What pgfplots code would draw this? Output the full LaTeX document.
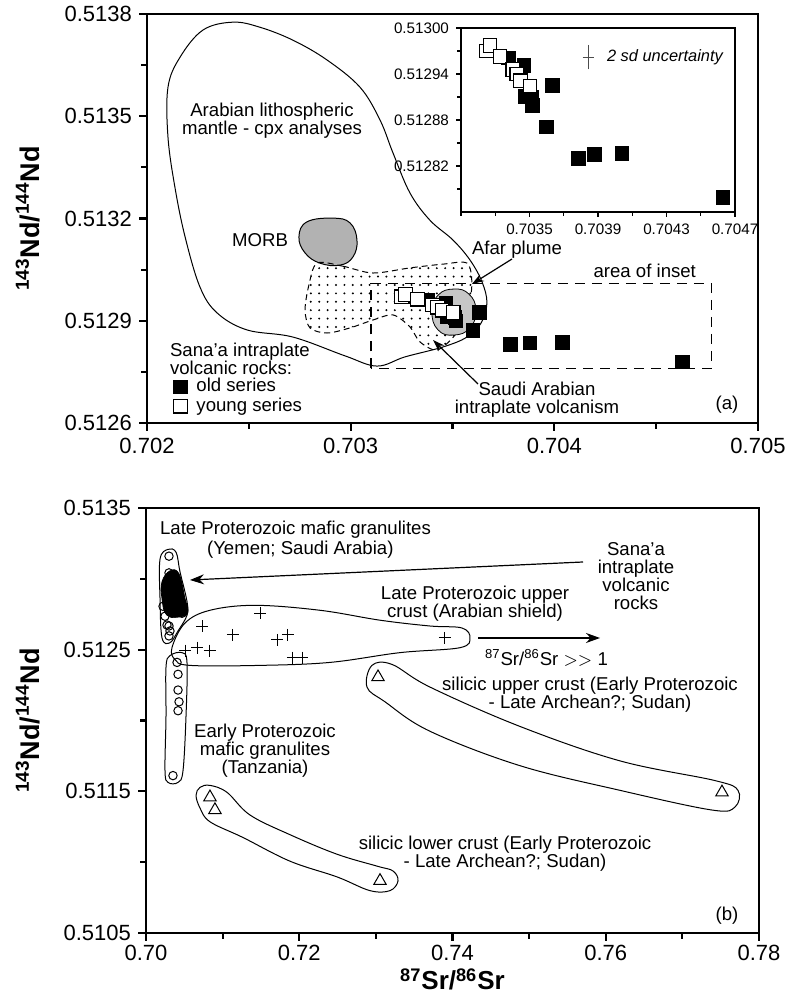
\documentclass[border=0pt]{standalone}
\usepackage{pgfplots}
\pgfplotsset{compat=1.18}
\usepackage{fontspec}
\setmainfont{Liberation Sans}
\usetikzlibrary{patterns.meta,arrows.meta}

\newcommand\ann{\fontsize{9.3}{9}\selectfont}

\pgfplotsset{
  panel/.style={
    scale only axis, anchor=south west,
    axis line style={line width=1.3pt},
    tick align=outside, xtick pos=left, ytick pos=left,
    major tick length=4pt, minor tick length=3pt,
    every tick/.style={line width=1.1pt, black},
    tick label style={font=\fontsize{11}{13}\selectfont},
    scaled ticks=false,
    label style={font=\bfseries\fontsize{13.5}{15}\selectfont},
  },
  oldser/.style={only marks, mark=square*, mark size=3.4pt,
    mark options={draw=black, fill=black, line width=0.5pt}},
  youngser/.style={only marks, mark=square*, mark size=3.4pt,
    mark options={draw=black, fill=white, line width=0.6pt}},
}

% Sana'a intraplate volcanic rocks, 87Sr/86Sr vs 143Nd/144Nd
\pgfplotstableread{
x y
0.70463 0.512779
0.70404 0.512836
0.70388 0.512835
0.703785 0.512830
0.70360 0.512871
0.703633 0.512925
0.703518 0.512899
0.703512 0.512910
0.703473 0.512911
0.703468 0.512951
0.703376 0.512961
0.703260 0.512970
}\oldseries
\pgfplotstableread{
x y
0.703250 0.512970
0.703269 0.512977
0.703328 0.512963
0.703402 0.512946
0.703426 0.512940
0.703448 0.512931
0.703503 0.512924
}\youngseries

\begin{document}
\begin{tikzpicture}
\path[use as bounding box] (0,0) rectangle (394pt,499.5pt);

% ---------------- panel (a) ----------------
\begin{axis}[panel, at={(73.5pt,288pt)}, width=305.5pt, height=204.5pt,
  xmin=0.702, xmax=0.705, ymin=0.5126, ymax=0.5138,
  xtick={0.702,0.703,0.704,0.705}, xticklabels={0.702,0.703,0.704,0.705},
  minor xtick={0.7025,0.7035,0.7045},
  ytick={0.5126,0.5129,0.5132,0.5135,0.5138},
  yticklabels={0.5126,0.5129,0.5132,0.5135,0.5138},
  minor ytick={0.51275,0.51305,0.51335,0.51365},
  ylabel={\textsuperscript{143}Nd/\textsuperscript{144}Nd},
  ylabel style={at={(axis description cs:-0.195,0.5)}, anchor=center},
  legend style={at={(axis description cs:0.043,0.112)}, anchor=north west,
    draw=none, fill=none, inner sep=0pt, row sep=0.2pt, column sep=4pt,
    font=\ann, nodes={inner sep=0.6pt, text height=6.6pt, text depth=1.6pt}},
  legend cell align=left,
]
% Arabian lithospheric mantle field
\draw[line width=0.5pt] plot[smooth cycle, tension=0.6] coordinates {
 (axis cs:0.702422,0.513776) (axis cs:0.702555,0.513761) (axis cs:0.702717,0.513723)
 (axis cs:0.702884,0.513665) (axis cs:0.703046,0.513585) (axis cs:0.703144,0.513489)
 (axis cs:0.703208,0.513392) (axis cs:0.703291,0.513275) (axis cs:0.703389,0.513195)
 (axis cs:0.703502,0.513137) (axis cs:0.703586,0.513078) (axis cs:0.703645,0.513014)
 (axis cs:0.703669,0.512952) (axis cs:0.703640,0.512893) (axis cs:0.703571,0.512852)
 (axis cs:0.703453,0.512823) (axis cs:0.703267,0.512794) (axis cs:0.703129,0.512767)
 (axis cs:0.702972,0.512797) (axis cs:0.702717,0.512852) (axis cs:0.702491,0.512873)
 (axis cs:0.702344,0.512923) (axis cs:0.702260,0.512999) (axis cs:0.702187,0.513146)
 (axis cs:0.702137,0.513292) (axis cs:0.702103,0.513439) (axis cs:0.702103,0.513585)
 (axis cs:0.702162,0.513673) (axis cs:0.702275,0.513753)};
% MORB field
\draw[line width=0.5pt, fill=gray!60] plot[smooth cycle, tension=0.7] coordinates {
 (axis cs:0.702785,0.513190) (axis cs:0.702913,0.513201) (axis cs:0.702997,0.513187)
 (axis cs:0.703031,0.513137) (axis cs:0.703011,0.513087) (axis cs:0.702947,0.513063)
 (axis cs:0.702849,0.513069) (axis cs:0.702776,0.513099) (axis cs:0.702746,0.513146)};
% Saudi Arabian intraplate volcanism field
\draw[line width=0.5pt, dash pattern=on 3pt off 2pt, pattern={Dots[distance=4.2pt, radius=0.55pt]}]
 plot[smooth cycle, tension=0.5] coordinates {
 (axis cs:0.702835,0.513069) (axis cs:0.702962,0.513060) (axis cs:0.703109,0.513040)
 (axis cs:0.703291,0.513055) (axis cs:0.703453,0.513066) (axis cs:0.703571,0.513069)
 (axis cs:0.703595,0.513011) (axis cs:0.703576,0.512931) (axis cs:0.703512,0.512858)
 (axis cs:0.703424,0.512814) (axis cs:0.703340,0.512838) (axis cs:0.703291,0.512882)
 (axis cs:0.703208,0.512917) (axis cs:0.703109,0.512902) (axis cs:0.702997,0.512879)
 (axis cs:0.702884,0.512864) (axis cs:0.702800,0.512879) (axis cs:0.702776,0.512931)
 (axis cs:0.702795,0.513005)};
% Afar plume field
\draw[line width=0.4pt, fill=gray!45] plot[smooth cycle, tension=0.8] coordinates {
 (axis cs:0.703507,0.512993) (axis cs:0.703581,0.512978) (axis cs:0.703615,0.512931)
 (axis cs:0.703586,0.512879) (axis cs:0.703507,0.512858) (axis cs:0.703429,0.512873)
 (axis cs:0.703399,0.512926) (axis cs:0.703429,0.512975)};
% outline of the enlarged area
\draw[line width=0.6pt, dash pattern=on 5pt off 3.5pt]
 (axis cs:0.7031,0.51276) rectangle (axis cs:0.70477,0.51301);
\addplot[oldser] table {\oldseries};
\addlegendentry{old series}
\addplot[youngser] table {\youngseries};
\addlegendentry{young series}
\end{axis}

% ---------------- inset ----------------
\begin{axis}[scale only axis, anchor=south west, at={(230.5pt,393.5pt)},
  width=137pt, height=92pt,
  axis background/.style={fill=white},
  xmin=0.7031, xmax=0.7047, ymin=0.51276, ymax=0.51300,
  xtick={0.7035,0.7039,0.7043,0.7047}, xticklabels={0.7035,0.7039,0.7043,0.7047},
  minor xtick={0.7031,0.7033,0.7037,0.7041,0.7045},
  ytick={0.51282,0.51288,0.51294,0.51300},
  yticklabels={0.51282,0.51288,0.51294,0.51300},
  minor ytick={0.51279,0.51285,0.51291,0.51297},
  tick align=outside, xtick pos=left, ytick pos=left,
  axis line style={line width=0.8pt},
  major tick length=2.5pt, minor tick length=2pt,
  every tick/.style={line width=0.7pt, black},
  tick label style={font=\fontsize{7.6}{9}\selectfont},
  scaled ticks=false,
]
\addplot[oldser] table {\oldseries};
\addplot[youngser] table {\youngseries};
% analytical uncertainty (2 sd)
\addplot[black!70, mark=none,
  error bars/.cd, x dir=both, x explicit, y dir=both, y explicit,
  error mark options={mark size=1.1pt, line width=0.4pt, black!70},
  error bar style={line width=0.4pt, black!70}]
  coordinates {(0.703842,0.512962) +- (0.000019,0.000013)};
\end{axis}

% ---------------- panel (b) ----------------
\begin{axis}[panel, at={(73pt,33pt)}, width=306.5pt, height=212.5pt,
  xmin=0.70, xmax=0.78, ymin=0.5105, ymax=0.5135,
  xtick={0.70,0.72,0.74,0.76,0.78}, xticklabels={0.70,0.72,0.74,0.76,0.78},
  minor xtick={0.71,0.73,0.75,0.77},
  xticklabel style={inner sep=2pt},
  ytick={0.5105,0.5115,0.5125,0.5135}, yticklabels={0.5105,0.5115,0.5125,0.5135},
  minor ytick={0.511,0.512,0.513},
  ylabel={\textsuperscript{143}Nd/\textsuperscript{144}Nd},
  ylabel style={at={(axis description cs:-0.193,0.5)}, anchor=center},
  xlabel={\textsuperscript{87}Sr/\textsuperscript{86}Sr},
  xlabel style={at={(axis description cs:0.5,-0.134)}, anchor=base, inner sep=0pt,
    font=\bfseries\fontsize{13}{14}\selectfont},
]
% Late Proterozoic mafic granulites (Yemen; Saudi Arabia)
\draw[line width=0.5pt] plot[smooth cycle, tension=0.6] coordinates {
 (axis cs:0.70287,0.513208) (axis cs:0.70392,0.513188) (axis cs:0.70444,0.513049)
 (axis cs:0.70535,0.512840) (axis cs:0.70535,0.512743) (axis cs:0.70418,0.512632)
 (axis cs:0.70313,0.512549) (axis cs:0.70209,0.512583) (axis cs:0.70183,0.512861)
 (axis cs:0.70183,0.513139)};
% Early Proterozoic mafic granulites (Tanzania)
\draw[line width=0.5pt] plot[smooth cycle, tension=0.6] coordinates {
 (axis cs:0.70313,0.512458) (axis cs:0.70470,0.512479) (axis cs:0.70535,0.512410)
 (axis cs:0.70522,0.512028) (axis cs:0.70483,0.511646) (axis cs:0.70418,0.511563)
 (axis cs:0.70287,0.511563) (axis cs:0.70248,0.511646) (axis cs:0.70261,0.512028)
 (axis cs:0.70261,0.512375)};
% Late Proterozoic upper crust (Arabian shield)
\draw[line width=0.5pt] plot[smooth cycle, tension=0.6] coordinates {
 (axis cs:0.70339,0.512514) (axis cs:0.70509,0.512688) (axis cs:0.70835,0.512778)
 (axis cs:0.71422,0.512813) (axis cs:0.72271,0.512778) (axis cs:0.73054,0.512708)
 (axis cs:0.73706,0.512667) (axis cs:0.74124,0.512653) (axis cs:0.74228,0.512583)
 (axis cs:0.74098,0.512514) (axis cs:0.73315,0.512479) (axis cs:0.72401,0.512410)
 (axis cs:0.71488,0.512389) (axis cs:0.70574,0.512389) (axis cs:0.70378,0.512431)};
% silicic upper crust
\draw[line width=0.5pt] plot[smooth cycle, tension=0.6] coordinates {
 (axis cs:0.72949,0.512389) (axis cs:0.73210,0.512396) (axis cs:0.73706,0.512236)
 (axis cs:0.74881,0.511958) (axis cs:0.76186,0.511715) (axis cs:0.77425,0.511576)
 (axis cs:0.77726,0.511507) (axis cs:0.77686,0.511389) (axis cs:0.77386,0.511368)
 (axis cs:0.76186,0.511507) (axis cs:0.74881,0.511681) (axis cs:0.73706,0.511924)
 (axis cs:0.73119,0.512132) (axis cs:0.72884,0.512236)};
% silicic lower crust
\draw[line width=0.5pt] plot[smooth cycle, tension=0.6] coordinates {
 (axis cs:0.70835,0.511542) (axis cs:0.71057,0.511493) (axis cs:0.71357,0.511333)
 (axis cs:0.71879,0.511194) (axis cs:0.72493,0.511056) (axis cs:0.73015,0.510972)
 (axis cs:0.73223,0.510938) (axis cs:0.73289,0.510868) (axis cs:0.73184,0.510799)
 (axis cs:0.72923,0.510799) (axis cs:0.72493,0.510896) (axis cs:0.71879,0.511007)
 (axis cs:0.71266,0.511174) (axis cs:0.70835,0.511285) (axis cs:0.70705,0.511382)
 (axis cs:0.70653,0.511472) (axis cs:0.70705,0.511528)};
% mafic granulites, Yemen and Saudi Arabia
\addplot[only marks, mark=o, mark size=2.1pt, mark options={fill=white, line width=0.5pt}]
 coordinates {(0.70300,0.513160) (0.70300,0.513042) (0.70287,0.512938) (0.70274,0.512847)
 (0.70222,0.512806) (0.70300,0.512806) (0.70470,0.512806) (0.70339,0.512757)
 (0.70470,0.512757) (0.70248,0.512736) (0.70274,0.512674) (0.70300,0.512667)
 (0.70313,0.512632) (0.70300,0.512597)};
% Sana'a volcanic rocks at this scale
\draw[fill=black] plot[smooth cycle, tension=0.7] coordinates {
 (axis cs:0.70313,0.513056) (axis cs:0.70431,0.513035) (axis cs:0.70509,0.512861)
 (axis cs:0.70548,0.512778) (axis cs:0.70483,0.512736) (axis cs:0.70274,0.512743)
 (axis cs:0.70209,0.512861) (axis cs:0.70209,0.512979)};
% mafic granulites, Tanzania
\addplot[only marks, mark=o, mark size=2.1pt, mark options={fill=white, line width=0.5pt}]
 coordinates {(0.70405,0.512410) (0.70418,0.512326) (0.70418,0.512215) (0.70431,0.512132)
 (0.70418,0.512069) (0.70352,0.511611)};
% upper crust, Arabian shield
\addplot[only marks, mark=+, mark size=3pt, mark options={line width=0.5pt}]
 coordinates {(0.71488,0.512757) (0.70731,0.512667) (0.71135,0.512604) (0.71710,0.512569)
 (0.71853,0.512604) (0.70666,0.512514) (0.70509,0.512493) (0.70835,0.512493)
 (0.71918,0.512444) (0.72036,0.512444) (0.73900,0.512583)};
% silicic crust, Sudan
\addplot[only marks, mark=triangle, mark size=3.6pt, mark options={line width=0.5pt}]
 coordinates {(0.70835,0.511458) (0.70900,0.511368) (0.73054,0.510868)
 (0.73028,0.512306) (0.77517,0.511493)};
\end{axis}

% ---------------- annotations (page units: 1 = 1 px) ----------------
\begin{scope}[yshift=499.5pt, x=0.5pt, y=-0.5pt, font=\ann]
% panel (a)
\node[align=center] at (272,121) {Arabian lithospheric\\mantle - cpx analyses};
\node[anchor=east] at (295,240) {MORB};
\node at (517,250) {Afar plume};
\draw[-{Stealth[length=6pt,width=4pt]}, line width=0.6pt] (512,259) -- (472,284);
\node[align=center] at (537,400) {Saudi Arabian\\intraplate volcanism};
\draw[-{Stealth[length=6pt,width=4pt]}, line width=0.6pt] (478,384) -- (433,340);
\node[anchor=east] at (703,271) {area of inset};
\node[align=left, anchor=west] at (163,359) {Sana'a intraplate\\volcanic rocks:};
\node at (727,405) {(a)};
\node[anchor=west, font=\itshape\fontsize{8.2}{9}\selectfont] at (600,57) {2 sd uncertainty};
% panel (b)
\node[anchor=west] at (153,530) {Late Proterozoic mafic granulites};
\node[anchor=west] at (200,550) {(Yemen; Saudi Arabia)};
\node[align=center] at (636,576) {Sana'a\\intraplate\\volcanic\\rocks};
\draw[-{Stealth[length=7pt,width=5pt]}, line width=0.6pt] (583,562) -- (190,580);
\node[align=center] at (475,604) {Late Proterozoic upper\\crust (Arabian shield)};
\draw[-{Stealth[length=7pt,width=5pt]}, line width=0.6pt] (478,638) -- (600,638);
\node[anchor=west] at (478,658) {\textsuperscript{87}Sr/\textsuperscript{86}Sr $>>$ 1};
\node[align=center] at (265,751) {Early Proterozoic\\mafic granulites\\(Tanzania)};
\node[align=center] at (590,695) {silicic upper crust (Early Proterozoic\\- Late Archean?; Sudan)};
\node[align=center] at (505,854) {silicic lower crust (Early Proterozoic\\- Late Archean?; Sudan)};
\node at (727,916) {(b)};
\end{scope}
\end{tikzpicture}
\end{document}
